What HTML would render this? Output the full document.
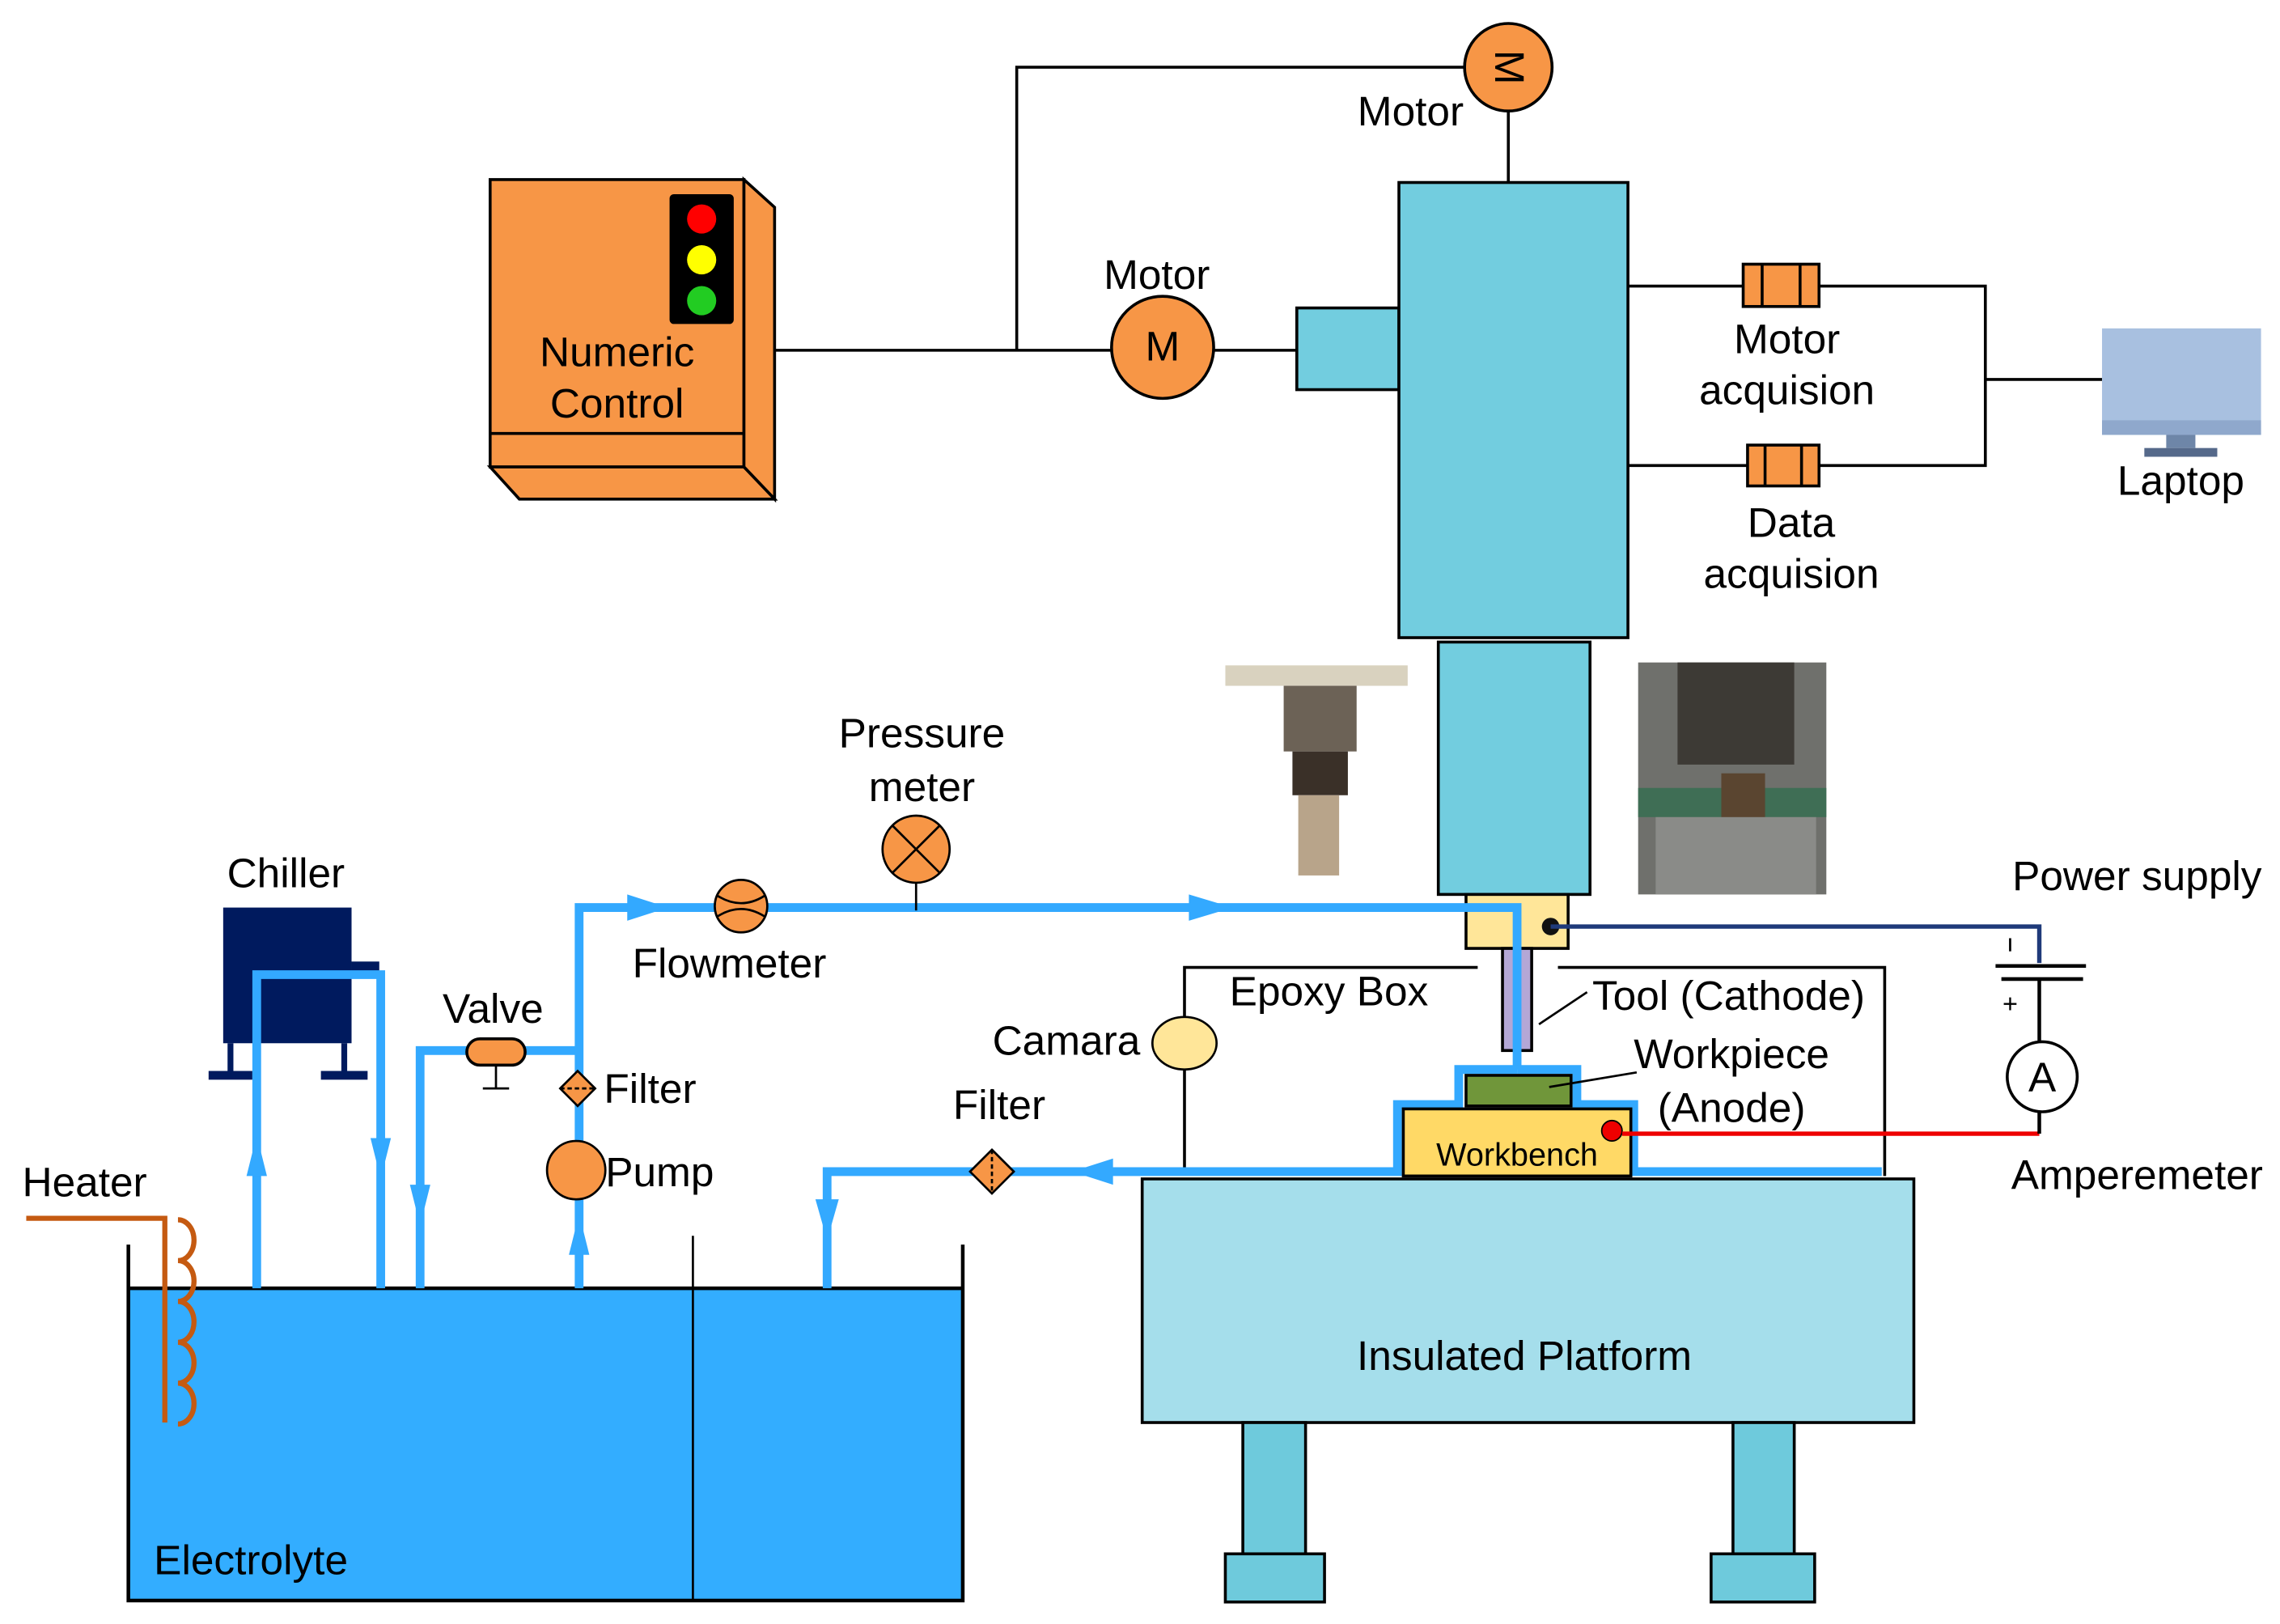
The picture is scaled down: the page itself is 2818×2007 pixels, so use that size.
<!DOCTYPE html>
<html><head><meta charset="utf-8"><style>html,body{margin:0;padding:0;background:#fff}svg{display:block}</style></head>
<body>
<svg width="2818" height="2007" viewBox="0 0 1563 1113" xmlns="http://www.w3.org/2000/svg" font-family="Liberation Sans, sans-serif" font-size="28.5">
<rect width="1563" height="1113" fill="#fff"/>
<g stroke="#000" stroke-width="2" fill="none">
<polyline points="1004,46 697,46 697,240"/>
<line x1="1034" y1="76" x2="1034" y2="125"/>
<line x1="531" y1="240" x2="763" y2="240"/>
<line x1="832" y1="240" x2="889" y2="240"/>
<polyline points="1116,196 1195,196"/><polyline points="1247,196 1361,196 1361,319 1247,319"/>
<line x1="1116" y1="319" x2="1198" y2="319"/>
<line x1="1361" y1="260" x2="1441" y2="260"/>
<polyline points="812,800 812,663 1013,663"/>
<polyline points="1068,663 1292,663 1292,806"/>
</g>
<g stroke="#000" stroke-width="2" fill="#F79646">
<rect x="336" y="123" width="174" height="197"/>
<polygon points="510,123 531,142 531,342 510,320"/>
<polygon points="336,320 510,320 531,342 356,342"/>
<line x1="336" y1="297" x2="510" y2="297"/>
</g>
<rect x="459" y="133" width="44" height="89" fill="#000" rx="3"/>
<circle cx="481" cy="150" r="10" fill="#f00"/><circle cx="481" cy="178" r="10" fill="#ff0"/><circle cx="481" cy="206" r="10" fill="#2c2"/>
<text x="423" y="251" text-anchor="middle">Numeric</text><text x="423" y="286" text-anchor="middle">Control</text>
<circle cx="1034" cy="46" r="30" fill="#F79646" stroke="#000" stroke-width="2"/>
<text x="0" y="0" text-anchor="middle" transform="translate(1025,46) rotate(90)">M</text>
<text x="967" y="86" text-anchor="middle">Motor</text>
<circle cx="797" cy="238" r="35" fill="#F79646" stroke="#000" stroke-width="2"/>
<text x="797" y="247" text-anchor="middle">M</text>
<text x="793" y="198" text-anchor="middle">Motor</text>
<g stroke="#000" stroke-width="2" fill="#72CDDF">
<rect x="889" y="211" width="70" height="56"/>
<rect x="959" y="125" width="157" height="312"/>
<rect x="986" y="440" width="104" height="173"/>
</g>
<rect x="1005" y="613" width="70" height="37" fill="#FFE699" stroke="#000" stroke-width="2"/>
<rect x="1030" y="650" width="20" height="70" fill="#B4A7D6" stroke="#000" stroke-width="2"/>
<g stroke="#000" stroke-width="2" fill="#F79646">
<rect x="1195" y="181" width="52" height="29"/><line x1="1208" y1="181" x2="1208" y2="210"/><line x1="1234" y1="181" x2="1234" y2="210"/>
<rect x="1198" y="305" width="49" height="28"/><line x1="1210" y1="305" x2="1210" y2="333"/><line x1="1235" y1="305" x2="1235" y2="333"/>
</g>
<text x="1225" y="242" text-anchor="middle">Motor</text><text x="1225" y="277" text-anchor="middle">acquision</text>
<text x="1228" y="368" text-anchor="middle">Data</text><text x="1228" y="403" text-anchor="middle">acquision</text>
<rect x="1441" y="225" width="109" height="73" fill="#A8C0E0"/>
<rect x="1441" y="288" width="109" height="10" fill="#8FA8CC"/>
<rect x="1485" y="298" width="20" height="9" fill="#6E86A8"/>
<rect x="1470" y="307" width="50" height="6" fill="#55698A"/>
<text x="1495" y="339" text-anchor="middle">Laptop</text>
<rect x="840" y="456" width="125" height="14" fill="#d9d2bf"/>
<rect x="880" y="470" width="50" height="45" fill="#6c6256"/>
<rect x="886" y="515" width="38" height="30" fill="#3a3028"/>
<rect x="890" y="545" width="28" height="55" fill="#b8a48a"/>
<rect x="1123" y="454" width="129" height="159" fill="#6f706c"/>
<rect x="1150" y="454" width="80" height="70" fill="#3d3a35"/>
<rect x="1123" y="540" width="129" height="20" fill="#3f6e55"/>
<rect x="1180" y="530" width="30" height="45" fill="#5a4530"/>
<rect x="1135" y="560" width="110" height="53" fill="#8a8b88"/>
<g stroke="#000" stroke-width="2">
<rect x="783" y="808" width="529" height="167" fill="#A5DEEB"/>
<rect x="852" y="975" width="43" height="90" fill="#6ECADC"/>
<rect x="1188" y="975" width="42" height="90" fill="#6ECADC"/>
<rect x="840" y="1065" width="68" height="33" fill="#6ECADC"/>
<rect x="1173" y="1065" width="71" height="33" fill="#6ECADC"/>
</g>
<text x="1045" y="939" text-anchor="middle">Insulated Platform</text>
<rect x="88" y="883" width="572" height="214" fill="#33ADFF"/>
<g stroke="#000" stroke-width="2.5" fill="none">
<polyline points="88,853 88,1097 660,1097 660,853"/>
<line x1="88" y1="883" x2="660" y2="883"/>
<line x1="475" y1="847" x2="475" y2="1097" stroke-width="1.5"/>
</g>
<text x="172" y="1079" text-anchor="middle">Electrolyte</text>
<g stroke="#C55A11" stroke-width="3.5" fill="none">
<polyline points="18,835 113,835 113,975"/>
<path d="M122,836 a11,14 0 0 1 0,28 a11,14 0 0 1 0,28 a11,14 0 0 1 0,28 a11,14 0 0 1 0,28 a11,14 0 0 1 0,28"/>
</g>
<text x="58" y="820" text-anchor="middle">Heater</text>
<rect x="153" y="622" width="88" height="93" fill="#001A5E"/>
<rect x="241" y="659" width="19" height="8" fill="#001A5E"/>
<g stroke="#001A5E" stroke-width="4"><line x1="158" y1="715" x2="158" y2="737"/><line x1="236" y1="715" x2="236" y2="737"/></g>
<rect x="143" y="734" width="30" height="6" fill="#001A5E"/><rect x="220" y="734" width="32" height="6" fill="#001A5E"/>
<text x="196" y="608" text-anchor="middle">Chiller</text>
<g stroke="#33A9FF" stroke-width="6" fill="none">
<polyline points="176,883 176,668 261,668 261,883"/>
<polyline points="288,883 288,720 397,720"/>
<polyline points="397,883 397,622 1040,622 1040,733"/>
<polyline points="1040,733 1000,733 1000,757 958,757 958,803 567,803 567,883"/>
<polyline points="1040,733 1081,733 1081,757 1120,757 1120,803 1290,803"/>
</g>
<g fill="#33A9FF">
<polygon points="176,778 169,806 183,806"/>
<polygon points="261,808 254,780 268,780"/>
<polygon points="288,840 281,812 295,812"/>
<polygon points="397,832 390,860 404,860"/>
<polygon points="458,622 430,613 430,631"/>
<polygon points="845,622 815,613 815,631"/>
<polygon points="735,803 763,794 763,812"/>
<polygon points="567,850 559,822 575,822"/>
</g>
<rect x="962" y="760" width="156" height="46" fill="#FFD966" stroke="#000" stroke-width="2"/>
<rect x="1005" y="737" width="72" height="21" fill="#70963A" stroke="#000" stroke-width="2"/>
<text x="1040" y="799" text-anchor="middle" font-size="22">Workbench</text>
<circle cx="1105" cy="775" r="7" fill="#e00" stroke="#000" stroke-width="1"/>
<line x1="1112" y1="777" x2="1398" y2="777" stroke="#e00" stroke-width="3"/>
<circle cx="1063" cy="635" r="6" fill="#111"/>
<polyline points="1063,635 1398,635 1398,660" stroke="#1F3A7A" stroke-width="3" fill="none"/>
<g stroke="#000" stroke-width="2.5">
<line x1="1368" y1="662" x2="1430" y2="662"/>
<line x1="1372" y1="671" x2="1428" y2="671"/>
<line x1="1398" y1="671" x2="1398" y2="714"/>
<line x1="1398" y1="762" x2="1398" y2="777"/>
<line x1="1378" y1="643" x2="1378" y2="652" stroke-width="1.5"/>
</g>
<text x="1378" y="694" text-anchor="middle" font-size="18">+</text>
<circle cx="1400" cy="738" r="24" fill="#fff" stroke="#000" stroke-width="2"/>
<text x="1400" y="748" text-anchor="middle">A</text>
<text x="1465" y="610" text-anchor="middle">Power supply</text>
<text x="1465" y="815" text-anchor="middle">Amperemeter</text>
<rect x="320" y="712" width="40" height="18" rx="9" fill="#F79646" stroke="#000" stroke-width="2"/>
<g stroke="#000" stroke-width="1.5"><line x1="340" y1="730" x2="340" y2="746"/><line x1="331" y1="746" x2="349" y2="746"/></g>
<polygon points="396,734 408,746 396,758 384,746" fill="#F79646" stroke="#000" stroke-width="1.5"/>
<line x1="384" y1="746" x2="408" y2="746" stroke="#000" stroke-width="1.5" stroke-dasharray="3,2"/>
<circle cx="395" cy="802" r="20" fill="#F79646" stroke="#000" stroke-width="1.5"/>
<ellipse cx="508" cy="621" rx="18" ry="18" fill="#F79646" stroke="#000" stroke-width="1.5"/>
<path d="M492,614 q16,10 32,0 M492,628 q16,-10 32,0" stroke="#000" stroke-width="1.5" fill="none"/>
<line x1="628" y1="605" x2="628" y2="624" stroke="#000" stroke-width="1.5"/>
<circle cx="628" cy="582" r="23" fill="#F79646" stroke="#000" stroke-width="1.5"/>
<path d="M612,566 L644,598 M644,566 L612,598" stroke="#000" stroke-width="1.5"/>
<polygon points="680,788 695,803 680,818 665,803" fill="#F79646" stroke="#000" stroke-width="1.5"/>
<line x1="680" y1="788" x2="680" y2="818" stroke="#000" stroke-width="1.5" stroke-dasharray="3,2"/>
<ellipse cx="812" cy="715" rx="22" ry="18" fill="#FFE699" stroke="#000" stroke-width="1.5"/>
<g stroke="#000" stroke-width="1.5"><line x1="1055" y1="702" x2="1088" y2="680"/><line x1="1062" y1="745" x2="1122" y2="735"/></g>
<text x="338" y="701" text-anchor="middle">Valve</text>
<text x="414" y="756">Filter</text>
<text x="415" y="813">Pump</text>
<text x="500" y="670" text-anchor="middle">Flowmeter</text>
<text x="632" y="512" text-anchor="middle">Pressure</text>
<text x="632" y="549" text-anchor="middle">meter</text>
<text x="731" y="723" text-anchor="middle">Camara</text>
<text x="685" y="767" text-anchor="middle">Filter</text>
<text x="911" y="689" text-anchor="middle">Epoxy Box</text>
<text x="1185" y="692" text-anchor="middle">Tool (Cathode)</text>
<text x="1187" y="732" text-anchor="middle">Workpiece</text>
<text x="1187" y="769" text-anchor="middle">(Anode)</text>
</svg>
</body></html>
